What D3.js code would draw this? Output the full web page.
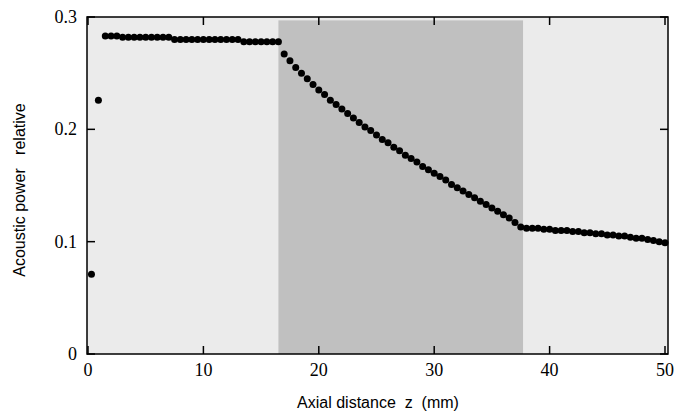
<!DOCTYPE html>
<html><head><meta charset="utf-8">
<script src="https://cdn.jsdelivr.net/npm/d3@7"></script>
<style>body{margin:0;background:#fff}</style>
</head><body>
<svg id="chart" width="685" height="417"></svg>
<script>
var xTicks = [0, 10, 20, 30, 40, 50];
var yTicks = [0, 0.1, 0.2, 0.3];
var band = [16.5, 37.7, 0.297];

var zValues = [0.3, 0.9,
  1.5, 2, 2.5, 3, 3.5, 4, 4.5, 5, 5.5, 6, 6.5, 7, 7.5, 8, 8.5, 9, 9.5, 10, 10.5, 11, 11.5, 12, 12.5, 13,
  13.5, 14, 14.5, 15, 15.5, 16, 16.5,
  17, 17.5, 18, 18.5, 19, 19.5, 20, 20.5, 21, 21.5, 22, 22.5, 23, 23.5, 24, 24.5, 25, 25.5, 26, 26.5,
  27, 27.5, 28, 28.5, 29, 29.5, 30, 30.5, 31, 31.5, 32, 32.5, 33, 33.5, 34, 34.5, 35, 35.5, 36, 36.5, 37, 37.5,
  38, 38.5, 39, 39.5, 40, 40.5, 41, 41.5, 42, 42.5, 43, 43.5, 44, 44.5, 45, 45.5, 46, 46.5, 47, 47.5, 48, 48.5, 49, 49.5, 50];
var powerValues = [0.071, 0.226,
  0.283, 0.283, 0.283, 0.282, 0.282, 0.282, 0.282, 0.282, 0.282, 0.282, 0.282, 0.282, 0.280, 0.280, 0.280, 0.280, 0.280, 0.280, 0.280, 0.280, 0.280, 0.280, 0.280, 0.280,
  0.278, 0.278, 0.278, 0.278, 0.278, 0.278, 0.278,
  0.267, 0.261, 0.255, 0.250, 0.245, 0.240, 0.235, 0.231, 0.226, 0.222, 0.218, 0.214, 0.210, 0.206, 0.202, 0.199, 0.195, 0.191, 0.188, 0.184,
  0.181, 0.177, 0.174, 0.171, 0.167, 0.164, 0.161, 0.158, 0.155, 0.151, 0.148, 0.145, 0.142, 0.139, 0.136, 0.133, 0.130, 0.127, 0.124, 0.121, 0.117, 0.113,
  0.112, 0.112, 0.112, 0.111, 0.111, 0.110, 0.110, 0.110, 0.109, 0.109, 0.108, 0.108, 0.107, 0.107, 0.106, 0.106, 0.105, 0.105, 0.104, 0.103, 0.103, 0.102, 0.101, 0.100, 0.099];

var svg = d3.select("#chart");
var pLeft = 87, pRight = 668, pTop = 17, pBottom = 354;

var x = d3.scaleLinear().domain([0, 50]).range([pLeft + 1, 665]);
var y = d3.scaleLinear().domain([0, 0.3]).range([pBottom, pTop]);

svg.append("rect").attr("x", pLeft).attr("y", pTop)
  .attr("width", pRight - pLeft).attr("height", pBottom - pTop).attr("fill", "#ebebeb");

svg.append("rect").attr("x", x(band[0])).attr("y", y(band[2]))
  .attr("width", x(band[1]) - x(band[0])).attr("height", pBottom - y(band[2]))
  .attr("fill", "#c0c0c0");

svg.selectAll("circle.pt").data(zValues).enter().append("circle")
  .attr("cx", function(d){ return x(d); })
  .attr("cy", function(d, i){ return y(powerValues[i]); })
  .attr("r", 3.5).attr("fill", "#000");

svg.append("rect").attr("x", pLeft).attr("y", pTop)
  .attr("width", pRight - pLeft).attr("height", pBottom - pTop)
  .attr("fill", "none").attr("stroke", "#000").attr("stroke-width", 1.5);

var tickLen = 8;
xTicks.forEach(function(t){
  svg.append("line").attr("x1", x(t)).attr("x2", x(t)).attr("y1", pBottom).attr("y2", pBottom - tickLen).attr("stroke", "#000").attr("stroke-width", 1.5);
  svg.append("line").attr("x1", x(t)).attr("x2", x(t)).attr("y1", pTop).attr("y2", pTop + tickLen).attr("stroke", "#000").attr("stroke-width", 1.5);
  svg.append("text").attr("x", x(t)).attr("y", pBottom + 22).attr("text-anchor", "middle")
    .attr("font-family", "Liberation Serif").attr("font-size", 18).text(t);
});
yTicks.forEach(function(t){
  svg.append("line").attr("x1", pLeft).attr("x2", pLeft + tickLen).attr("y1", y(t)).attr("y2", y(t)).attr("stroke", "#000").attr("stroke-width", 1.5);
  svg.append("line").attr("x1", pRight).attr("x2", pRight - tickLen).attr("y1", y(t)).attr("y2", y(t)).attr("stroke", "#000").attr("stroke-width", 1.5);
  svg.append("text").attr("x", pLeft - 10).attr("y", y(t) + 6).attr("text-anchor", "end")
    .attr("font-family", "Liberation Serif").attr("font-size", 18).text(t === 0 ? "0" : t.toFixed(1));
});

svg.append("text").attr("x", 378).attr("y", 408).attr("text-anchor", "middle")
  .attr("font-family", "Liberation Sans").attr("font-size", 16)
  .style("white-space", "pre").text("Axial distance  z  (mm)");
svg.append("text").attr("transform", "translate(25,190) rotate(-90)").attr("text-anchor", "middle")
  .attr("font-family", "Liberation Sans").attr("font-size", 16)
  .style("white-space", "pre").text("Acoustic power   relative");
</script>
</body></html>
